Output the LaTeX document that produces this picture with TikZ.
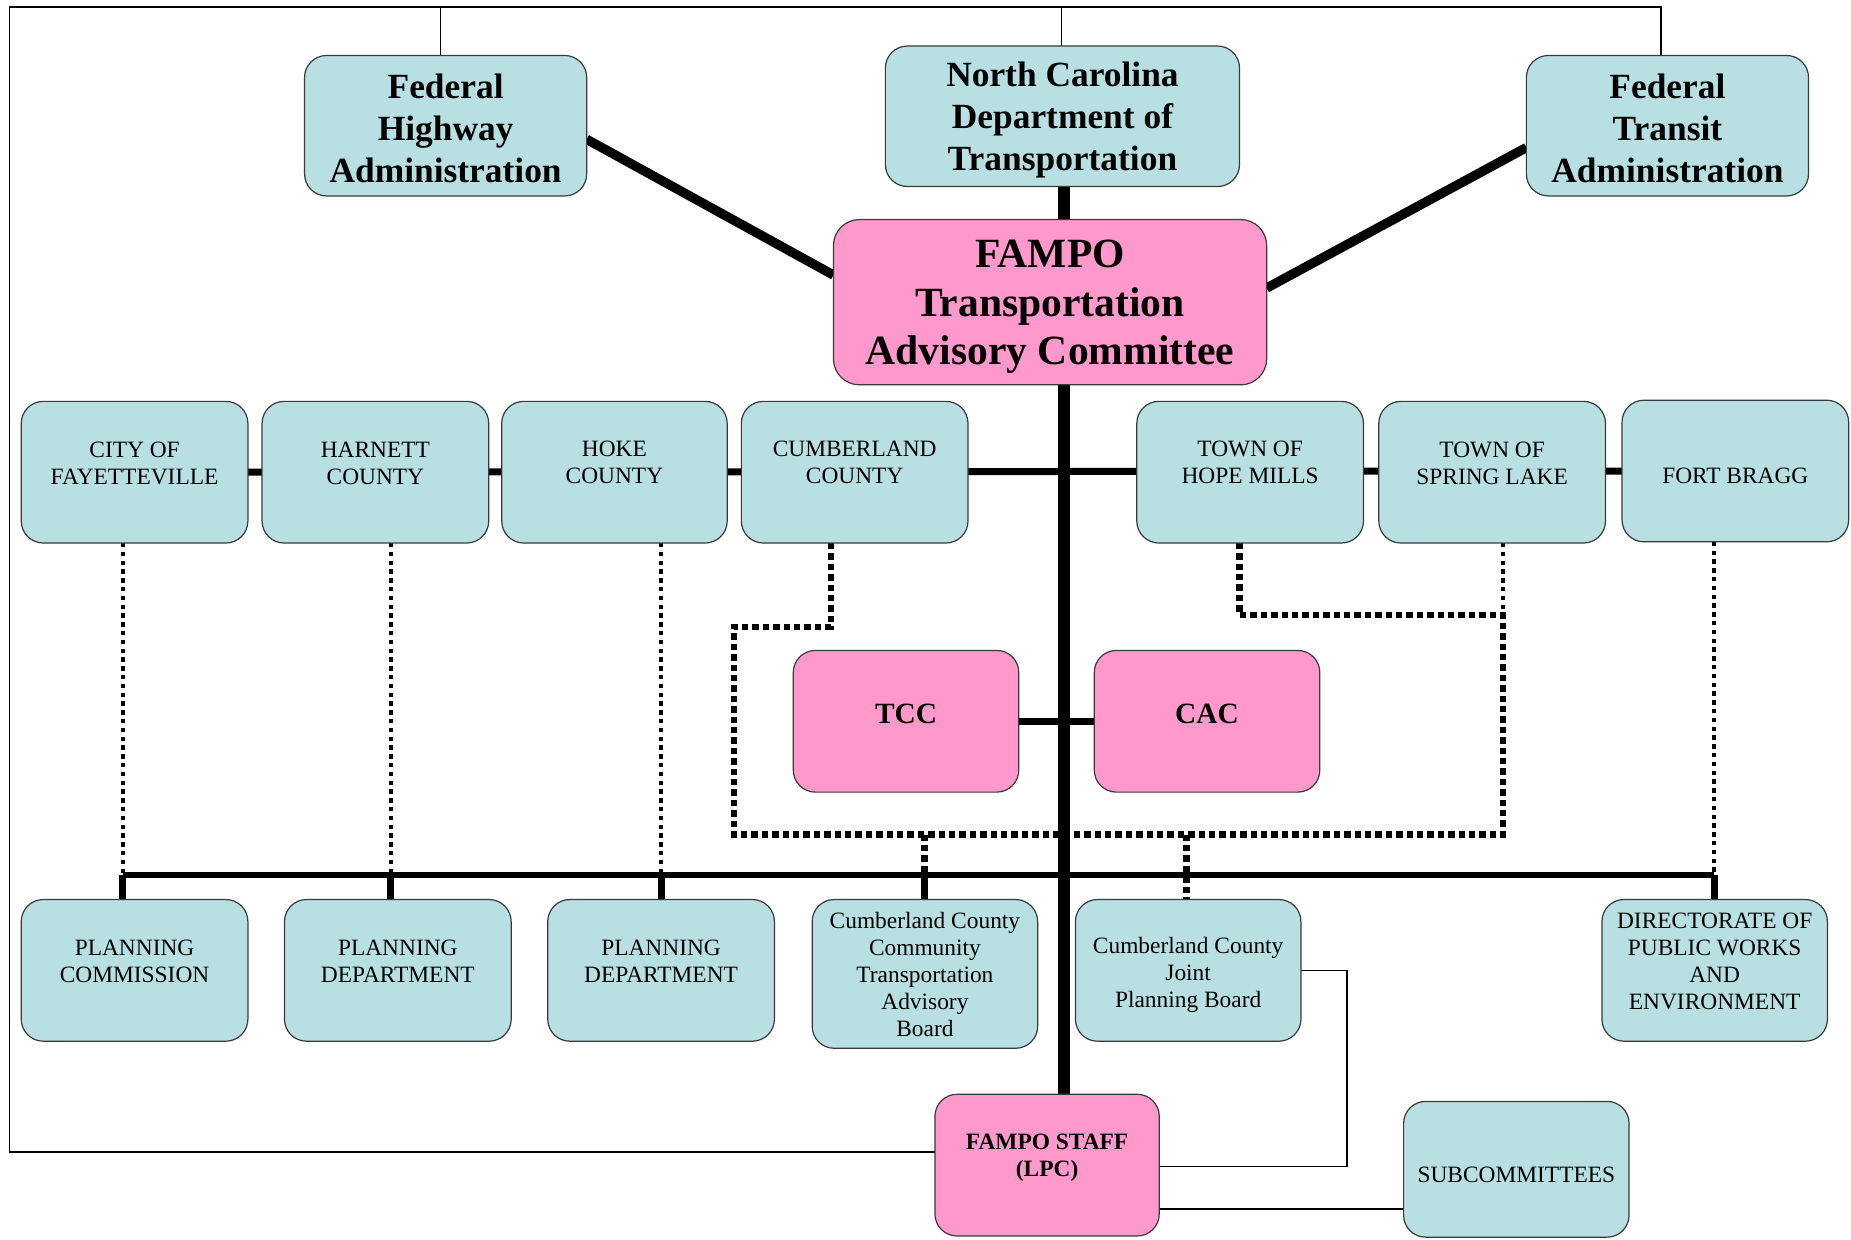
\documentclass[tikz,border=0pt]{standalone}
\usepackage{fontspec}
\setmainfont{Liberation Serif}
\usetikzlibrary{calc}
\pgfdeclarelayer{background}
\pgfsetlayers{background,main}
\definecolor{boxblue}{HTML}{B8DFE2}
\definecolor{boxpink}{HTML}{FF99CC}
\definecolor{bordc}{HTML}{3A3A3A}
\newcommand{\pxu}{0.59025pt}
\tikzset{
  sz/.style 2 args={minimum width=#1*\pxu, minimum height=#2*\pxu},
  bbox/.style={draw=bordc, line width=0.6pt, fill=boxblue, rounded corners=11pt, inner sep=0pt, outer sep=0pt},
  pbox/.style={bbox, fill=boxpink},
  bigtxt/.style={align=center, inner sep=0pt, font=\fontsize{17.7}{21}\selectfont\bfseries},
  tactxt/.style={align=center, inner sep=0pt, font=\fontsize{20.8}{24.2}\selectfont\bfseries},
  smtxt/.style={align=center, inner sep=0pt, font=\fontsize{11.7}{13.5}\selectfont},
  bsmtxt/.style={align=center, inner sep=0pt, font=\fontsize{11.7}{13.5}\selectfont\bfseries},
  midtxt/.style={align=center, inner sep=0pt, font=\fontsize{14.7}{17}\selectfont\bfseries},
  trunkline/.style={line width=6pt},
  diagline/.style={line width=4.7pt},
  rowline/.style={line width=3.5pt},
  busline/.style={line width=3pt},
  dropline/.style={line width=3.5pt},
  dotthin/.style={line width=2pt, dash pattern=on 2.2pt off 2.2pt},
  dotthick/.style={line width=3.2pt, dash pattern=on 3.2pt off 2pt},
  thinline/.style={line width=0.8pt},
  framel/.style={line width=0.75pt},
}
\begin{document}
\begin{tikzpicture}[x=0.59025pt, y=-0.59025pt]
\useasboundingbox (0,0) rectangle (1568,1050);

% top level
\node[bbox, sz={239}{119}] (fhwa) at (377.5,106.5) {};
\node[bigtxt] (fhwat) at (377.5,109) {Federal\\Highway\\Administration};
\node[bbox, sz={300}{119}] (ncdot) at (900,98.5) {};
\node[bigtxt] (ncdott) at (900,102) {North Carolina\\Department of\\Transportation};
\node[bbox, sz={239}{119}] (fta) at (1412.5,106.5) {};
\node[bigtxt] (ftat) at (1412.5,109) {Federal\\Transit\\Administration};

\node[pbox, sz={367}{140}, rounded corners=13pt] (tac) at (889.5,256) {};
\node[tactxt] (tact) at (889.5,260) {FAMPO\\Transportation\\Advisory Committee};

% row 2
\node[bbox, sz={192}{120}] (fay) at (114,400) {};
\node[smtxt] (fayt) at (114,392.5) {CITY OF\\FAYETTEVILLE};
\node[bbox, sz={192}{120}] (har) at (318,400) {};
\node[smtxt] (hart) at (318,392.5) {HARNETT\\COUNTY};
\node[bbox, sz={191}{120}] (hoke) at (520.5,400) {};
\node[smtxt] (hoket) at (520.5,391.5) {HOKE\\COUNTY};
\node[bbox, sz={192}{120}] (cumb) at (724,400) {};
\node[smtxt] (cumbt) at (724,391.5) {CUMBERLAND\\COUNTY};
\node[bbox, sz={192}{120}] (hope) at (1059,400) {};
\node[smtxt] (hopet) at (1059,391.5) {TOWN OF\\HOPE MILLS};
\node[bbox, sz={192}{120}] (spring) at (1264,400) {};
\node[smtxt] (springt) at (1264,392.5) {TOWN OF\\SPRING LAKE};
\node[bbox, sz={192}{120}] (bragg) at (1470,399) {};
\node[smtxt] (braggt) at (1470,403) {FORT BRAGG};

% committees
\node[pbox, sz={191}{120}] (tcc) at (767.5,611) {};
\node[midtxt] (tcct) at (767.5,605) {TCC};
\node[pbox, sz={191}{120}] (cac) at (1022.5,611) {};
\node[midtxt] (cact) at (1022.5,605) {CAC};

% bottom row
\node[bbox, sz={192}{120}] (pc) at (114,822) {};
\node[smtxt] (pct) at (114,814) {PLANNING\\COMMISSION};
\node[bbox, sz={192}{120}] (pd1) at (337,822) {};
\node[smtxt] (pd1t) at (337,814) {PLANNING\\DEPARTMENT};
\node[bbox, sz={192}{120}] (pd2) at (560,822) {};
\node[smtxt] (pd2t) at (560,814) {PLANNING\\DEPARTMENT};
\node[bbox, sz={191}{126}] (cctab) at (783.5,825) {};
\node[smtxt] (cctabt) at (783.5,825.5) {Cumberland County\\Community\\Transportation\\Advisory\\Board};
\node[bbox, sz={191}{120}] (jpb) at (1006.5,822) {};
\node[smtxt] (jpbt) at (1006.5,826) {Cumberland County\\Joint\\Planning Board};
\node[bbox, sz={191}{120}] (dir) at (1452.5,822) {};
\node[smtxt] (dirt) at (1452.5,814.5) {DIRECTORATE OF\\PUBLIC WORKS\\AND\\ENVIRONMENT};

\node[pbox, sz={190}{120}] (staff) at (887,987) {};
\node[bsmtxt] (stafft) at (887,980.5) {FAMPO STAFF\\(LPC)};
\node[bbox, sz={191}{115}] (sub) at (1284.5,990.5) {};
\node[smtxt] (subt) at (1284.5,995) {SUBCOMMITTEES};

% coordinates
\coordinate (b1) at (104,741);
\coordinate (b2) at (331,741);
\coordinate (b3) at (560,741);
\coordinate (b4) at (783,741);
\coordinate (b5) at (1005,741);
\coordinate (b6) at (1452,741);
\coordinate (c1) at (704,531);
\coordinate (c2) at (622,531);
\coordinate (c3) at (622,707);
\coordinate (c4) at (1273,707);
\coordinate (c5) at (1273,521);
\coordinate (c6) at (1050,521);
\coordinate (j1) at (1141,822);
\coordinate (j2) at (1141,988);
\coordinate (s1) at (1189,1024);
\coordinate (f1) at (8,976);
\coordinate (f2) at (8,6);
\coordinate (f3) at (1407,6);
\coordinate (t1) at (373,6);
\coordinate (t2) at (899,6);
\coordinate (tr) at (901,0);

\begin{pgfonlayer}{background}
  % frame
  \draw[framel] (staff.west |- f1) -- (f1) -- (f2) -- (f3) -- (f3 |- fta.north);
  \draw[framel] (t1) -- (t1 |- fhwa.north);
  \draw[framel] (t2) -- (t2 |- ncdot.north);
  % top connectors
  \draw[diagline] ($(fhwa.east)+(0,11.5)$) -- ($(tac.west)+(0,-23)$);
  \draw[diagline] ($(fta.west)+(0,18.5)$) -- ($(tac.east)+(0,-12)$);
  \draw[trunkline] (tr |- ncdot.south) -- (tr |- tac.north);
  \draw[trunkline] (tr |- tac.south) -- (tr |- staff.north);
  % row connectors
  \draw[rowline] (fay.east) -- (bragg.west);
  \draw[rowline] (tcc.east) -- (cac.west);
  % bus
  \draw[busline] (b1) -- (b6);
  \draw[dropline] (b1) -- (b1 |- pc.north);
  \draw[dropline] (b2) -- (b2 |- pd1.north);
  \draw[dropline] (b3) -- (b3 |- pd2.north);
  \draw[dropline] (b4) -- (b4 |- cctab.north);
  \draw[dropline] (b6) -- (b6 |- dir.north);
  % dotted
  \draw[dotthin] (b1 |- fay.south) -- (b1);
  \draw[dotthin] (b2 |- har.south) -- (b2);
  \draw[dotthin] (b3 |- hoke.south) -- (b3);
  \draw[dotthin] (b6 |- bragg.south) -- (b6);
  \draw[dotthin] (c5 |- spring.south) -- (c5);
  \draw[dotthick] (c1 |- cumb.south) -- (c1) -- (c2) -- (c3) -- (c4) -- (c5) -- (c6) -- (c6 |- hope.south);
  \draw[dotthick] (b4 |- c3) -- (b4);
  \draw[dotthick] (b5 |- c3) -- (b5 |- jpb.north);
  % thin
  \draw[thinline] (jpb.east) -- (j1) -- (j2) -- (j2 -| staff.east);
  \draw[thinline] (s1 -| staff.east) -- (s1 -| sub.west);
\end{pgfonlayer}
\end{tikzpicture}
\end{document}
